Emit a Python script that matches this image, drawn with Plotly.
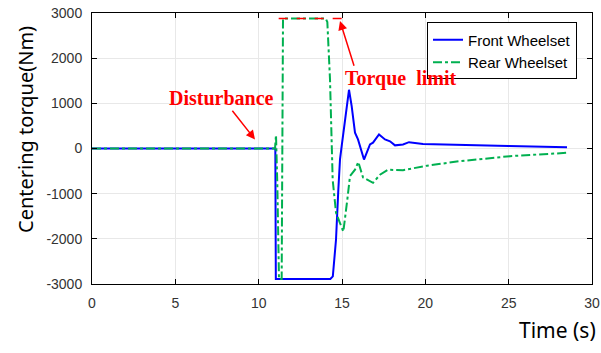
import plotly.graph_objects as go

# Front wheelset (blue, solid)
front_t = [0, 11.0, 11.03, 14.3, 14.45, 14.64, 14.78, 14.88, 14.98, 15.18, 15.42, 15.58, 15.78, 15.96,
           16.32, 16.68, 16.86, 17.22, 17.58, 17.88, 18.18, 18.66, 19.02, 19.86, 22.1, 25.0, 28.5]
front_v = [0, 0, -2890, -2890, -2830, -2020, -910, -240, 50, 640, 1300, 940, 350, 200,
           -245, 90, 130, 310, 200, 160, 70, 90, 140, 100, 75, 55, 30]

# Rear wheelset (green, dash-dot)
rear_t = [0, 10.98, 11.04, 11.12, 11.22, 11.38, 11.46, 14.02, 14.12, 14.2, 14.28, 14.44, 14.64, 14.88,
          15.08, 15.32, 15.48, 15.78, 15.98, 16.26, 16.86, 17.28, 17.76, 18.66, 20.1, 22.08, 25.08, 28.5]
rear_v = [0, 0, 300, -800, -2890, -2890, 2880, 2880, 2800, 2200, 1530, -690, -1420, -1650,
          -1840, -1130, -610, -470, -300, -640, -760, -580, -470, -480, -380, -280, -170, -95]

# Torque limit reference
limit_t = [11.2, 15.2]
limit_v = [2880, 2880]

x_ticks = [0, 5, 10, 15, 20, 25, 30]
y_ticks = [-3000, -2000, -1000, 0, 1000, 2000, 3000]
y_tick_text = ["-3000", "-2000", "-1000", "0", "1000", "2000", "3000"]

fig = go.Figure()
fig.add_trace(go.Scatter(x=front_t, y=front_v, mode="lines", name="Front Wheelset",
                         line=dict(color="#0000ff", width=2)))
fig.add_trace(go.Scatter(x=rear_t, y=rear_v, mode="lines", name="Rear Wheelset",
                         line=dict(color="#00b050", width=2, dash="dashdot")))
fig.add_trace(go.Scatter(x=limit_t, y=limit_v, mode="lines", showlegend=False,
                         line=dict(color="#ff0000", width=1.5, dash="dash")))

axis_common = dict(showline=True, linecolor="black", linewidth=1, mirror="ticks",
                   ticks="inside", ticklen=5, tickcolor="black", automargin=False,
                   showgrid=True, gridcolor="#e8e8e8", gridwidth=1, zeroline=False,
                   tickfont=dict(family="Liberation Sans, Arial", size=14, color="#333333"))

fig.update_xaxes(range=[0, 30], tickvals=x_ticks, ticklabelstandoff=6, **axis_common)
fig.update_yaxes(range=[-3000, 3000], tickvals=y_ticks, ticktext=y_tick_text,
                 ticklabelstandoff=6, **axis_common)

red_font = dict(family="Liberation Serif, Times New Roman", size=20, color="#ff0000")
fig.add_annotation(x=9.78, y=200, ax=8.35, ay=870, xref="x", yref="y", axref="x", ayref="y",
                   text="", showarrow=True, arrowhead=2, arrowsize=1.2, arrowwidth=1.5, arrowcolor="#ff0000")
fig.add_annotation(x=14.88, y=2822, ax=15.75, ay=1800, xref="x", yref="y", axref="x", ayref="y",
                   text="", showarrow=True, arrowhead=2, arrowsize=1.2, arrowwidth=1.5, arrowcolor="#ff0000")
fig.add_annotation(x=7.75, y=1110, xref="x", yref="y", text="<b>Disturbance</b>", showarrow=False,
                   font=red_font)
fig.add_annotation(x=18.5, y=1560, xref="x", yref="y", text="<b>Torque  limit</b>", showarrow=False,
                   font=red_font)

title_font = dict(family="Noto Sans, Open Sans", size=20, color="black")
# positions given in pixels, converted to paper coords below
fig.add_annotation(x=25, y=130, xref="paper", yref="paper", text="Centering torque(Nm)",
                   showarrow=False, textangle=-90, font=title_font, xanchor="center", yanchor="middle")
fig.add_annotation(x=557, y=330, xref="paper", yref="paper", text="Time (s)",
                   showarrow=False, font=dict(family="Noto Sans, Open Sans", size=21, color="black"),
                   xanchor="center", yanchor="middle")

fig.update_layout(
    width=601, height=353,
    margin=dict(l=92, r=9, t=13, b=69, autoexpand=False),
    paper_bgcolor="white", plot_bgcolor="white",
    legend=dict(x=0.67, y=0.965, xanchor="left", yanchor="top",
                bordercolor="black", borderwidth=1, bgcolor="white",
                font=dict(family="Liberation Sans, Arial", size=15, color="black"),
                tracegroupgap=0),
)

for ann in fig.layout.annotations:
    if ann.xref == "paper" and ann.x > 1:
        ann.x = (ann.x - 92) / 500
        ann.y = (284 - ann.y) / 271

fig.write_html("out.html")
